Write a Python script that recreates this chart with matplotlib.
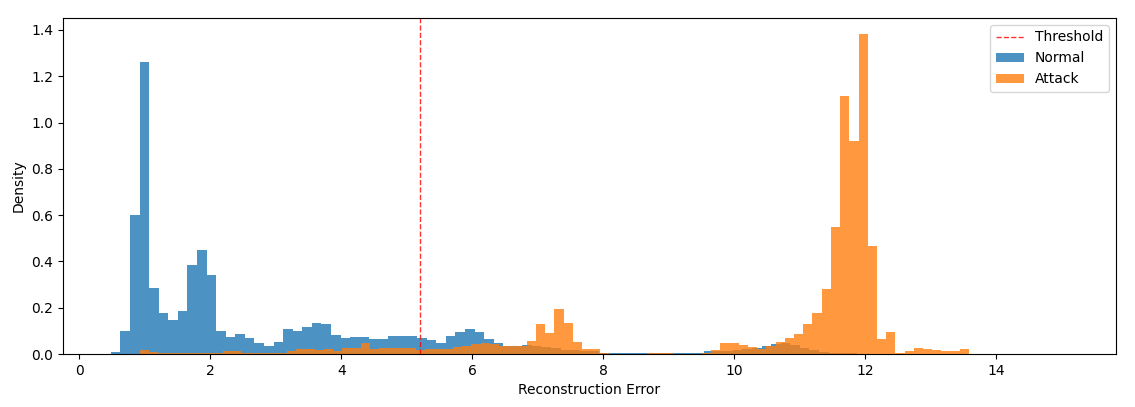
import numpy as np
import matplotlib
matplotlib.use("Agg")
import matplotlib.pyplot as plt

# Histogram bins
normal_start, normal_width, normal_nbins = 0.48, 0.1462, 100
attack_start, attack_width, attack_nbins = 0.92, 0.1408, 90

# Density per bin, Normal
normal_density = [
    0.007, 0.10, 0.60, 1.26, 0.285, 0.176, 0.147, 0.186, 0.384, 0.451,
    0.342, 0.10, 0.072, 0.087, 0.068, 0.049, 0.035, 0.053, 0.107, 0.10,
    0.118, 0.133, 0.130, 0.082, 0.068, 0.072, 0.072, 0.064, 0.064, 0.078,
    0.078, 0.078, 0.068, 0.061, 0.049, 0.078, 0.097, 0.107, 0.097, 0.064,
    0.046, 0.036, 0.033, 0.038, 0.036, 0.030, 0.025, 0.017, 0.017, 0.014,
    0.012, 0.006, 0.005, 0.005, 0.005, 0.005, 0.004, 0.004, 0.005, 0.006,
    0.006, 0.006, 0.012, 0.012, 0.015, 0.018, 0.022, 0.027, 0.033, 0.045,
    0.049, 0.039, 0.025, 0.017, 0.010, 0.006, 0.004, 0.003, 0.002, 0.001,
    0.0, 0.0, 0.0, 0.0, 0.0, 0.0, 0.0, 0.0, 0.0, 0.0,
    0.0, 0.0, 0.0, 0.0, 0.0, 0.0, 0.0, 0.0, 0.0, 0.001,
]

# Density per bin, Attack
attack_density = [
    0.017, 0.010, 0.006, 0.006, 0.006, 0.006, 0.006, 0.006, 0.006, 0.013,
    0.013, 0.006, 0.006, 0.006, 0.006, 0.006, 0.013, 0.020, 0.020, 0.018,
    0.020, 0.013, 0.027, 0.025, 0.046, 0.022, 0.025, 0.027, 0.027, 0.025,
    0.018, 0.020, 0.022, 0.022, 0.029, 0.035, 0.042, 0.046, 0.044, 0.037,
    0.033, 0.035, 0.058, 0.130, 0.090, 0.195, 0.136, 0.051, 0.020, 0.020,
    0.004, 0.001, 0.0, 0.0, 0.002, 0.006, 0.006, 0.006, 0.001, 0.0,
    0.001, 0.005, 0.017, 0.049, 0.049, 0.039, 0.029, 0.022, 0.035, 0.053,
    0.068, 0.085, 0.130, 0.176, 0.280, 0.549, 1.115, 0.920, 1.383, 0.468,
    0.064, 0.097, 0.005, 0.013, 0.026, 0.020, 0.017, 0.013, 0.013, 0.022,
]

threshold = 5.21

normal_edges = normal_start + normal_width * np.arange(normal_nbins + 1)
attack_edges = attack_start + attack_width * np.arange(attack_nbins + 1)

fig = plt.figure(figsize=(11.35, 4.07), dpi=100)
ax = fig.add_axes([0.0555, 0.130, 0.9275, 0.826])

# threshold first so it comes first in the legend
ax.axvline(threshold, color='red', linestyle='--', linewidth=1,
           alpha=0.8, label='Threshold')
ax.hist(normal_edges[:-1], bins=normal_edges, weights=normal_density,
        alpha=0.8, label='Normal')
ax.hist(attack_edges[:-1], bins=attack_edges, weights=attack_density,
        alpha=0.8, label='Attack')

ax.set_xlabel('Reconstruction Error')
ax.set_ylabel('Density')
ax.legend(loc='upper right')

fig.savefig('out.png', dpi=100)
